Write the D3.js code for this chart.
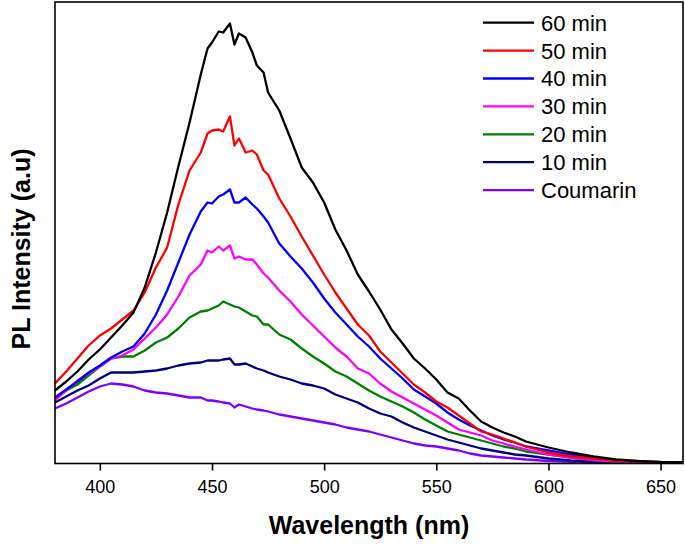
<!DOCTYPE html>
<html>
<head>
<meta charset="utf-8">
<script src="https://cdn.jsdelivr.net/npm/d3@7"></script>
<style>
  html, body { margin: 0; padding: 0; background: #fff; }
  svg { display: block; }
  text { font-family: Arial, "Liberation Sans", sans-serif; }
</style>
</head>
<body>
<svg id="chart" width="685" height="544"></svg>
<script>
// ---- data ----
const wavelengths = [380,385,390,395,400,405,410,415,420,425,430,435,440,445,448,450,453,455,458,460,462,465,468,470,473,475,480,485,490,495,500,505,510,515,520,525,530,535,540,545,550,555,560,565,570,575,580,585,590,600,610,620,630,640,650,660];

const min60 = [72,81,91,103,113,125,137,150,175,210,250,296,340,388,414,420,431,430,439,418,429,425,410,397,390,370,352,324,295,280,260,233,212,188,171,153,133,119,104,94,83,70,64,52,41,35,30,26,21,15,10,6,3,1.5,0.5,0];
const min50 = [79,91,104,117,127,134,143,152,170,195,215,258,292,310,329,332,333,331,346,317,324,310,312,308,292,288,264,246,226,207,188,170,154,138,127,111,100,89,78,70,61,55,47,39,31,28,24,20,16,10,6,4,2,0.8,0.3,0];
const min40 = [65,73,81,90,97,105,111,116,129,148,172,200,228,251,260,259,266,268,273,260,260,265,258,254,246,240,219,206,194,180,164,150,138,126,116,104,94,84,73,66,59,50,43,37,32,27,23,20,16,12,8,5,2,0.8,0.3,0];
const min30 = [62,72,82,89,96,104,107,113,124,135,148,166,187,198,212,210,216,212,217,204,206,203,203,198,189,185,172,161,148,137,126,115,106,94,89,79,71,65,59,53,47,40,33,30,27,22,19,16,13,8,5,2.5,1,0.5,0.2,0];
const min20 = [64,72,78,87,96,104,106,106,112,120,125,134,145,151,152,154,157,161,158,156,155,151,147,146,138,138,128,123,114,106,99,91,86,79,72,66,61,56,50,43,37,31,28,25,22,19,16,14,11,8,5,2.5,1,0.4,0.2,0];
const min10 = [60,66,72,77,84,90,90,90,91,92,94,97,99,100,102,102,102,103,104,98,98,99,96,94,92,90,86,83,79,77,74,68,64,60,54,49,46,40,35,31,27,23,20,17,14,12,10,8,7,4,2.2,1,0.4,0.2,0,0];
const coumarin = [54,59,65,71,76,79,78,76,72,70,69,67,65,65,62,62,61,60,59,55,58,56,54,53,52,51,48,46,44,42,40,38,35,33,31,28,25,22,19,17,16,14,12,9,7,6,5,4,3,1.5,0.6,0.2,0,0,0,0];

const seriesNames = ["60 min","50 min","40 min","30 min","20 min","10 min","Coumarin"];
const seriesColors = ["#000000","#ff0000","#0000ff","#ff00ff","#008000","#000080","#8000ff"];
const xTicks = [400,450,500,550,600,650];

// ---- layout ----
const svg = d3.select("#chart");
const plotL = 55, plotR = 683, plotT = 2, plotB = 463.5;

const x = d3.scaleLinear().domain([380, 660]).range([plotL, plotR]);
const y = d3.scaleLinear().domain([0, 460]).range([462.5, 2.5]);

const allSeries = [min60, min50, min40, min30, min20, min10, coumarin];

svg.append("clipPath").attr("id", "plotclip")
  .append("rect").attr("x", plotL).attr("y", plotT).attr("width", plotR - plotL).attr("height", plotB - plotT);

const line = d3.line().x((d, i) => x(wavelengths[i])).y(d => y(d));

const gLines = svg.append("g").attr("clip-path", "url(#plotclip)");
for (let k = allSeries.length - 1; k >= 0; k--) {
  gLines.append("path")
    .datum(allSeries[k])
    .attr("d", line)
    .attr("fill", "none")
    .attr("stroke", seriesColors[k])
    .attr("stroke-width", 2.3)
    .attr("stroke-linejoin", "round");
}

// frame
svg.append("rect")
  .attr("x", plotL).attr("y", plotT)
  .attr("width", plotR - plotL).attr("height", plotB - plotT)
  .attr("fill", "none").attr("stroke", "#000").attr("stroke-width", 1.6);

// x axis
const xAxis = d3.axisBottom(x).tickValues(xTicks).tickSize(7).tickPadding(10).tickFormat(d3.format("d"));
const gx = svg.append("g").attr("transform", `translate(0,${plotB})`).call(xAxis);
gx.select(".domain").remove();
gx.selectAll(".tick line").attr("stroke", "#000").attr("stroke-width", 1.6);
gx.selectAll(".tick text")
  .attr("fill", "#000")
  .style("font-family", "Arial, 'Liberation Sans', sans-serif")
  .style("font-size", "18px");

// axis titles
svg.append("text")
  .attr("x", (plotL + plotR) / 2).attr("y", 534)
  .attr("text-anchor", "middle")
  .style("font-size", "25px").style("font-weight", "bold")
  .text("Wavelength (nm)");

svg.append("text")
  .attr("transform", "translate(30,249) rotate(-90)")
  .attr("text-anchor", "middle")
  .style("font-size", "25px").style("font-weight", "bold")
  .text("PL Intensity (a.u)");

// legend
const legend = svg.append("g");
seriesNames.forEach((name, i) => {
  const yy = 22.7 + i * 27.9;
  legend.append("line")
    .attr("x1", 483).attr("x2", 534).attr("y1", yy).attr("y2", yy)
    .attr("stroke", seriesColors[i]).attr("stroke-width", 2.3);
  legend.append("text")
    .attr("x", 541).attr("y", yy).attr("dy", "0.36em")
    .style("font-size", "22px")
    .attr("fill", "#000")
    .text(name);
});
</script>
</body>
</html>
